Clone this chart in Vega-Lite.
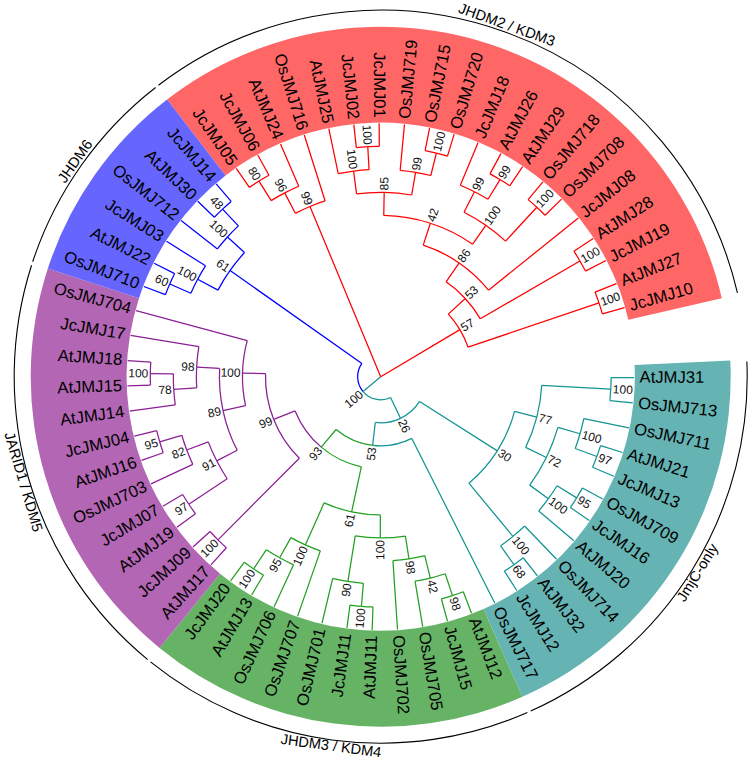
{
  "$schema": "https://vega.github.io/schema/vega-lite/v6.json",
  "width": 700,
  "height": 700,
  "autosize": {"type": "none"},
  "padding": {"left": 30.7, "top": 26.7, "right": 18.3, "bottom": 35.3},
  "background": "white",
  "config": {"view": {"stroke": null}, "text": {"font": "Liberation Sans"}},
  "datasets": {
    "clades": [
      {"clade": "KDM3", "label": "JHDM2 / KDM3", "y0": 40.5, "y1": 60.5, "ym": 50.5},
      {"clade": "JmjC", "label": "JmjC-only", "y0": -0.5, "y1": 11.5, "ym": 5.5},
      {"clade": "KDM4", "label": "JHDM3 / KDM4", "y0": 11.5, "y1": 22.5, "ym": 17},
      {"clade": "KDM5", "label": "JARID1 / KDM5", "y0": 22.5, "y1": 34.5, "ym": 28.5},
      {"clade": "JHDM6", "label": "JHDM6", "y0": 34.5, "y1": 40.5, "ym": 37.5}
    ],
    "tree": [
      {"n": "AtJMJ31", "y": 0, "x": 11, "py": 0.5, "px": 10, "g": "JmjC", "leaf": 1},
      {"n": "OsJMJ713", "y": 1, "x": 11, "py": 0.5, "px": 10, "g": "JmjC", "leaf": 1},
      {"n": "OsJMJ711", "y": 2, "x": 11, "py": 2.75, "px": 9, "g": "JmjC", "leaf": 1},
      {"n": "AtJMJ21", "y": 3, "x": 11, "py": 3.5, "px": 10, "g": "JmjC", "leaf": 1},
      {"n": "JcJMJ13", "y": 4, "x": 11, "py": 3.5, "px": 10, "g": "JmjC", "leaf": 1},
      {"n": "OsJMJ709", "y": 5, "x": 11, "py": 5.5, "px": 10, "g": "JmjC", "leaf": 1},
      {"n": "JcJMJ16", "y": 6, "x": 11, "py": 5.5, "px": 10, "g": "JmjC", "leaf": 1},
      {"n": "AtJMJ20", "y": 7, "x": 11, "py": 6.25, "px": 9, "g": "JmjC", "leaf": 1},
      {"n": "OsJMJ714", "y": 8, "x": 11, "py": 8.75, "px": 9, "g": "JmjC", "leaf": 1},
      {"n": "AtJMJ32", "y": 9, "x": 11, "py": 9.5, "px": 10, "g": "JmjC", "leaf": 1},
      {"n": "JcJMJ12", "y": 10, "x": 11, "py": 9.5, "px": 10, "g": "JmjC", "leaf": 1},
      {"n": "OsJMJ717", "y": 11, "x": 11, "py": 16.8359, "px": 3, "g": "JmjC", "leaf": 1},
      {"n": "AtJMJ12", "y": 12, "x": 11, "py": 12.5, "px": 10, "g": "KDM4", "leaf": 1},
      {"n": "JcJMJ15", "y": 13, "x": 11, "py": 12.5, "px": 10, "g": "KDM4", "leaf": 1},
      {"n": "OsJMJ705", "y": 14, "x": 11, "py": 13.25, "px": 9, "g": "KDM4", "leaf": 1},
      {"n": "OsJMJ702", "y": 15, "x": 11, "py": 14.125, "px": 8, "g": "KDM4", "leaf": 1},
      {"n": "AtJMJ11", "y": 16, "x": 11, "py": 16.5, "px": 10, "g": "KDM4", "leaf": 1},
      {"n": "JcJMJ11", "y": 17, "x": 11, "py": 16.5, "px": 10, "g": "KDM4", "leaf": 1},
      {"n": "OsJMJ701", "y": 18, "x": 11, "py": 17.25, "px": 9, "g": "KDM4", "leaf": 1},
      {"n": "OsJMJ707", "y": 19, "x": 11, "py": 19.875, "px": 8, "g": "KDM4", "leaf": 1},
      {"n": "OsJMJ706", "y": 20, "x": 11, "py": 20.75, "px": 9, "g": "KDM4", "leaf": 1},
      {"n": "AtJMJ13", "y": 21, "x": 11, "py": 21.5, "px": 10, "g": "KDM4", "leaf": 1},
      {"n": "JcJMJ20", "y": 22, "x": 11, "py": 21.5, "px": 10, "g": "KDM4", "leaf": 1},
      {"n": "AtJMJ17", "y": 23, "x": 11, "py": 23.5, "px": 10, "g": "KDM5", "leaf": 1},
      {"n": "JcJMJ09", "y": 24, "x": 11, "py": 23.5, "px": 10, "g": "KDM5", "leaf": 1},
      {"n": "AtJMJ19", "y": 25, "x": 11, "py": 25.5, "px": 10, "g": "KDM5", "leaf": 1},
      {"n": "JcJMJ07", "y": 26, "x": 11, "py": 25.5, "px": 10, "g": "KDM5", "leaf": 1},
      {"n": "OsJMJ703", "y": 27, "x": 11, "py": 27.75, "px": 9, "g": "KDM5", "leaf": 1},
      {"n": "AtJMJ16", "y": 28, "x": 11, "py": 28.5, "px": 10, "g": "KDM5", "leaf": 1},
      {"n": "JcJMJ04", "y": 29, "x": 11, "py": 28.5, "px": 10, "g": "KDM5", "leaf": 1},
      {"n": "AtJMJ14", "y": 30, "x": 11, "py": 30.75, "px": 9, "g": "KDM5", "leaf": 1},
      {"n": "AtJMJ15", "y": 31, "x": 11, "py": 31.5, "px": 10, "g": "KDM5", "leaf": 1},
      {"n": "AtJMJ18", "y": 32, "x": 11, "py": 31.5, "px": 10, "g": "KDM5", "leaf": 1},
      {"n": "JcJMJ17", "y": 33, "x": 11, "py": 31.875, "px": 8, "g": "KDM5", "leaf": 1},
      {"n": "OsJMJ704", "y": 34, "x": 11, "py": 31.625, "px": 6, "g": "KDM5", "leaf": 1},
      {"n": "OsJMJ710", "y": 35, "x": 11, "py": 35.5, "px": 10, "g": "JHDM6", "leaf": 1},
      {"n": "AtJMJ22", "y": 36, "x": 11, "py": 35.5, "px": 10, "g": "JHDM6", "leaf": 1},
      {"n": "JcJMJ03", "y": 37, "x": 11, "py": 36.25, "px": 9, "g": "JHDM6", "leaf": 1},
      {"n": "OsJMJ712", "y": 38, "x": 11, "py": 38.75, "px": 9, "g": "JHDM6", "leaf": 1},
      {"n": "AtJMJ30", "y": 39, "x": 11, "py": 39.5, "px": 10, "g": "JHDM6", "leaf": 1},
      {"n": "JcJMJ14", "y": 40, "x": 11, "py": 39.5, "px": 10, "g": "JHDM6", "leaf": 1},
      {"n": "JcJMJ05", "y": 41, "x": 11, "py": 41.5, "px": 10, "g": "KDM3", "leaf": 1},
      {"n": "JcJMJ06", "y": 42, "x": 11, "py": 41.5, "px": 10, "g": "KDM3", "leaf": 1},
      {"n": "AtJMJ24", "y": 43, "x": 11, "py": 42.25, "px": 9, "g": "KDM3", "leaf": 1},
      {"n": "OsJMJ716", "y": 44, "x": 11, "py": 43.125, "px": 8, "g": "KDM3", "leaf": 1},
      {"n": "AtJMJ25", "y": 45, "x": 11, "py": 45.75, "px": 9, "g": "KDM3", "leaf": 1},
      {"n": "JcJMJ02", "y": 46, "x": 11, "py": 46.5, "px": 10, "g": "KDM3", "leaf": 1},
      {"n": "JcJMJ01", "y": 47, "x": 11, "py": 46.5, "px": 10, "g": "KDM3", "leaf": 1},
      {"n": "OsJMJ719", "y": 48, "x": 11, "py": 48.75, "px": 9, "g": "KDM3", "leaf": 1},
      {"n": "OsJMJ715", "y": 49, "x": 11, "py": 49.5, "px": 10, "g": "KDM3", "leaf": 1},
      {"n": "OsJMJ720", "y": 50, "x": 11, "py": 49.5, "px": 10, "g": "KDM3", "leaf": 1},
      {"n": "JcJMJ18", "y": 51, "x": 11, "py": 51.75, "px": 9, "g": "KDM3", "leaf": 1},
      {"n": "AtJMJ26", "y": 52, "x": 11, "py": 52.5, "px": 10, "g": "KDM3", "leaf": 1},
      {"n": "AtJMJ29", "y": 53, "x": 11, "py": 52.5, "px": 10, "g": "KDM3", "leaf": 1},
      {"n": "OsJMJ718", "y": 54, "x": 11, "py": 54.5, "px": 10, "g": "KDM3", "leaf": 1},
      {"n": "OsJMJ708", "y": 55, "x": 11, "py": 54.5, "px": 10, "g": "KDM3", "leaf": 1},
      {"n": "JcJMJ08", "y": 56, "x": 11, "py": 53.09375, "px": 6, "g": "KDM3", "leaf": 1},
      {"n": "AtJMJ28", "y": 57, "x": 11, "py": 57.5, "px": 10, "g": "KDM3", "leaf": 1},
      {"n": "JcJMJ19", "y": 58, "x": 11, "py": 57.5, "px": 10, "g": "KDM3", "leaf": 1},
      {"n": "AtJMJ27", "y": 59, "x": 11, "py": 59.5, "px": 10, "g": "KDM3", "leaf": 1},
      {"n": "JcJMJ10", "y": 60, "x": 11, "py": 59.5, "px": 10, "g": "KDM3", "leaf": 1},

      {"n": "100", "y": 0.5, "x": 10, "py": 2.5, "px": 7, "g": "JmjC", "leaf": 0},
      {"n": "97", "y": 3.5, "x": 10, "py": 2.75, "px": 9, "g": "JmjC", "leaf": 0},
      {"n": "100", "y": 2.75, "x": 9, "py": 4.5, "px": 8, "g": "JmjC", "leaf": 0},
      {"n": "95", "y": 5.5, "x": 10, "py": 6.25, "px": 9, "g": "JmjC", "leaf": 0},
      {"n": "100", "y": 6.25, "x": 9, "py": 4.5, "px": 8, "g": "JmjC", "leaf": 0},
      {"n": "72", "y": 4.5, "x": 8, "py": 2.5, "px": 7, "g": "JmjC", "leaf": 0},
      {"n": "77", "y": 2.5, "x": 7, "py": 5.625, "px": 6, "g": "JmjC", "leaf": 0},
      {"n": "68", "y": 9.5, "x": 10, "py": 8.75, "px": 9, "g": "JmjC", "leaf": 0},
      {"n": "100", "y": 8.75, "x": 9, "py": 5.625, "px": 6, "g": "JmjC", "leaf": 0},
      {"n": "30", "y": 5.625, "x": 6, "py": 11.2305, "px": 2, "g": "JmjC", "leaf": 0},

      {"n": "100", "y": 16.5, "x": 10, "py": 17.25, "px": 9, "g": "KDM4", "leaf": 0},
      {"n": "90", "y": 17.25, "x": 9, "py": 15.6875, "px": 7, "g": "KDM4", "leaf": 0},
      {"n": "98", "y": 12.5, "x": 10, "py": 13.25, "px": 9, "g": "KDM4", "leaf": 0},
      {"n": "42", "y": 13.25, "x": 9, "py": 14.125, "px": 8, "g": "KDM4", "leaf": 0},
      {"n": "98", "y": 14.125, "x": 8, "py": 15.6875, "px": 7, "g": "KDM4", "leaf": 0},
      {"n": "100", "y": 15.6875, "x": 7, "py": 17.7813, "px": 6, "g": "KDM4", "leaf": 0},
      {"n": "100", "y": 21.5, "x": 10, "py": 20.75, "px": 9, "g": "KDM4", "leaf": 0},
      {"n": "95", "y": 20.75, "x": 9, "py": 19.875, "px": 8, "g": "KDM4", "leaf": 0},
      {"n": "100", "y": 19.875, "x": 8, "py": 17.7813, "px": 6, "g": "KDM4", "leaf": 0},
      {"n": "61", "y": 17.7813, "x": 6, "py": 22.6719, "px": 4, "g": "KDM4", "leaf": 0},

      {"n": "100", "y": 31.5, "x": 10, "py": 30.75, "px": 9, "g": "KDM5", "leaf": 0},
      {"n": "78", "y": 30.75, "x": 9, "py": 31.875, "px": 8, "g": "KDM5", "leaf": 0},
      {"n": "98", "y": 31.875, "x": 8, "py": 29.25, "px": 7, "g": "KDM5", "leaf": 0},
      {"n": "95", "y": 28.5, "x": 10, "py": 27.75, "px": 9, "g": "KDM5", "leaf": 0},
      {"n": "82", "y": 27.75, "x": 9, "py": 26.625, "px": 8, "g": "KDM5", "leaf": 0},
      {"n": "97", "y": 25.5, "x": 10, "py": 26.625, "px": 8, "g": "KDM5", "leaf": 0},
      {"n": "91", "y": 26.625, "x": 8, "py": 29.25, "px": 7, "g": "KDM5", "leaf": 0},
      {"n": "89", "y": 29.25, "x": 7, "py": 31.625, "px": 6, "g": "KDM5", "leaf": 0},
      {"n": "100", "y": 31.625, "x": 6, "py": 27.5625, "px": 5, "g": "KDM5", "leaf": 0},
      {"n": "100", "y": 23.5, "x": 10, "py": 27.5625, "px": 5, "g": "KDM5", "leaf": 0},
      {"n": "99", "y": 27.5625, "x": 5, "py": 22.6719, "px": 4, "g": "KDM5", "leaf": 0},

      {"n": "93", "y": 22.6719, "x": 4, "py": 16.8359, "px": 3, "g": "KDM4", "leaf": 0},
      {"n": "53", "y": 16.8359, "x": 3, "py": 11.2305, "px": 2, "g": "JmjC", "leaf": 0},
      {"n": "26", "y": 11.2305, "x": 2, "py": 24.3652, "px": 1, "g": "JmjC", "leaf": 0},

      {"n": "48", "y": 39.5, "x": 10, "py": 38.75, "px": 9, "g": "JHDM6", "leaf": 0},
      {"n": "100", "y": 38.75, "x": 9, "py": 37.5, "px": 8, "g": "JHDM6", "leaf": 0},
      {"n": "60", "y": 35.5, "x": 10, "py": 36.25, "px": 9, "g": "JHDM6", "leaf": 0},
      {"n": "100", "y": 36.25, "x": 9, "py": 37.5, "px": 8, "g": "JHDM6", "leaf": 0},
      {"n": "61", "y": 37.5, "x": 8, "py": 24.3652, "px": 1, "g": "JHDM6", "leaf": 0},

      {"n": "100", "y": 24.3652, "x": 1, "py": 24.3652, "px": 0, "g": "JmjC", "leaf": 0},

      {"n": "80", "y": 41.5, "x": 10, "py": 42.25, "px": 9, "g": "KDM3", "leaf": 0},
      {"n": "96", "y": 42.25, "x": 9, "py": 43.125, "px": 8, "g": "KDM3", "leaf": 0},
      {"n": "99", "y": 43.125, "x": 8, "py": 43.125, "px": 0, "g": "KDM3", "leaf": 0},
      {"n": "100", "y": 46.5, "x": 10, "py": 45.75, "px": 9, "g": "KDM3", "leaf": 0},
      {"n": "100", "y": 45.75, "x": 9, "py": 47.25, "px": 8, "g": "KDM3", "leaf": 0},
      {"n": "100", "y": 49.5, "x": 10, "py": 48.75, "px": 9, "g": "KDM3", "leaf": 0},
      {"n": "99", "y": 48.75, "x": 9, "py": 47.25, "px": 8, "g": "KDM3", "leaf": 0},
      {"n": "85", "y": 47.25, "x": 8, "py": 50.1875, "px": 7, "g": "KDM3", "leaf": 0},
      {"n": "99", "y": 52.5, "x": 10, "py": 51.75, "px": 9, "g": "KDM3", "leaf": 0},
      {"n": "99", "y": 51.75, "x": 9, "py": 53.125, "px": 8, "g": "KDM3", "leaf": 0},
      {"n": "100", "y": 54.5, "x": 10, "py": 53.125, "px": 8, "g": "KDM3", "leaf": 0},
      {"n": "100", "y": 53.125, "x": 8, "py": 50.1875, "px": 7, "g": "KDM3", "leaf": 0},
      {"n": "42", "y": 50.1875, "x": 7, "py": 53.0938, "px": 6, "g": "KDM3", "leaf": 0},
      {"n": "86", "y": 53.0938, "x": 6, "py": 55.2969, "px": 5, "g": "KDM3", "leaf": 0},
      {"n": "100", "y": 57.5, "x": 10, "py": 55.2969, "px": 5, "g": "KDM3", "leaf": 0},
      {"n": "53", "y": 55.2969, "x": 5, "py": 57.3984, "px": 4, "g": "KDM3", "leaf": 0},
      {"n": "100", "y": 59.5, "x": 10, "py": 57.3984, "px": 4, "g": "KDM3", "leaf": 0},
      {"n": "57", "y": 57.3984, "x": 4, "py": 57.3984, "px": 0, "g": "KDM3", "leaf": 0}
    ]
  },
  "resolve": {"scale": {"angle": "independent"}},
  "layer": [
    {
      "data": {"name": "clades"},
      "mark": {"type": "arc", "strokeWidth": 0},
      "encoding": {
        "theta": {"field": "y0", "type": "quantitative", "stack": null, "scale": {"type": "linear", "domain": [-15.7335, 47.0609], "range": [0, 6.283185307179586], "zero": false, "nice": false}},
        "theta2": {"field": "y1"},
        "radius": {"datum": 15.19, "type": "quantitative", "scale": {"type": "linear", "domain": [0, 16.5], "range": [0, 380.16], "zero": false, "nice": false}},
        "radius2": {"datum": 11.03},
        "fill": {"field": "clade", "type": "nominal", "legend": null, "scale": {"domain": ["KDM3", "JHDM6", "KDM5", "KDM4", "JmjC"], "range": ["#FF6666", "#6666FF", "#B366B3", "#66B366", "#66B3B3"]}}
      }
    },
    {
      "data": {"name": "clades"},
      "mark": {"type": "arc", "fill": "transparent", "stroke": "black", "strokeWidth": 1.1, "padAngle": 0.007},
      "encoding": {
        "theta": {"field": "y0", "type": "quantitative", "stack": null},
        "theta2": {"field": "y1"},
        "radius": {"datum": 15.907, "type": "quantitative"},
        "radius2": {"datum": 15.907}
      }
    },
    {
      "data": {"name": "tree"},
      "mark": {"type": "arc", "fill": "transparent", "strokeWidth": 1.25},
      "encoding": {
        "theta": {"field": "py", "type": "quantitative", "stack": null},
        "theta2": {"field": "y"},
        "radius": {"field": "px", "type": "quantitative"},
        "radius2": {"field": "px"},
        "stroke": {"field": "g", "type": "nominal", "legend": null, "scale": {"domain": ["KDM3", "JHDM6", "KDM5", "KDM4", "JmjC"], "range": ["#FF0000", "#0000FF", "#8C1E96", "#22A022", "#139494"]}}
      }
    },
    {
      "data": {"name": "tree"},
      "mark": {"type": "arc", "fill": "transparent", "strokeWidth": 1.25},
      "encoding": {
        "theta": {"field": "y", "type": "quantitative", "stack": null},
        "theta2": {"field": "y"},
        "radius": {"field": "x", "type": "quantitative"},
        "radius2": {"field": "px"},
        "stroke": {"field": "g", "type": "nominal", "legend": null}
      }
    },
    {
      "data": {"name": "tree"},
      "transform": [{"filter": "datum.leaf == 1 && (datum.y < 15.66 || datum.y > 47.06)"}],
      "mark": {"type": "text", "align": "left", "baseline": "middle", "fontSize": 16.6, "dx": 5.5, "color": "black"},
      "encoding": {
        "theta": {"field": "y", "type": "quantitative", "stack": null},
        "radius": {"datum": 11, "type": "quantitative"},
        "angle": {"field": "y", "type": "quantitative", "scale": {"type": "linear", "domain": [0, 60], "range": [0.2, 344.18], "zero": false, "nice": false}},
        "text": {"field": "n"}
      }
    },
    {
      "data": {"name": "tree"},
      "transform": [{"filter": "datum.leaf == 1 && datum.y >= 15.66 && datum.y <= 47.06"}],
      "mark": {"type": "text", "align": "right", "baseline": "middle", "fontSize": 16.6, "dx": -5.5, "color": "black"},
      "encoding": {
        "theta": {"field": "y", "type": "quantitative", "stack": null},
        "radius": {"datum": 11, "type": "quantitative"},
        "angle": {"field": "y", "type": "quantitative", "scale": {"type": "linear", "domain": [0, 60], "range": [-179.8, 164.18], "zero": false, "nice": false}},
        "text": {"field": "n"}
      }
    },
    {
      "data": {"name": "tree"},
      "transform": [{"filter": "datum.leaf == 0 && (datum.y < 15.66 || datum.y > 47.06)"}],
      "mark": {"type": "text", "align": "left", "baseline": "middle", "fontSize": 12, "dx": 2, "color": "#111111"},
      "encoding": {
        "theta": {"field": "y", "type": "quantitative", "stack": null},
        "radius": {"field": "x", "type": "quantitative"},
        "angle": {"field": "y", "type": "quantitative", "scale": {"type": "linear", "domain": [0, 60], "range": [0.2, 344.18], "zero": false, "nice": false}},
        "text": {"field": "n"}
      }
    },
    {
      "data": {"name": "tree"},
      "transform": [{"filter": "datum.leaf == 0 && datum.y >= 15.66 && datum.y <= 47.06"}],
      "mark": {"type": "text", "align": "right", "baseline": "middle", "fontSize": 12, "dx": -2, "color": "#111111"},
      "encoding": {
        "theta": {"field": "y", "type": "quantitative", "stack": null},
        "radius": {"field": "x", "type": "quantitative"},
        "angle": {"field": "y", "type": "quantitative", "scale": {"type": "linear", "domain": [0, 60], "range": [-179.8, 164.18], "zero": false, "nice": false}},
        "text": {"field": "n"}
      }
    },
    {
      "data": {"name": "clades"},
      "transform": [{"filter": "datum.ym > 30"}],
      "mark": {"type": "text", "align": "center", "baseline": "middle", "fontSize": 14.6, "color": "black"},
      "encoding": {
        "theta": {"field": "ym", "type": "quantitative", "stack": null},
        "radius": {"datum": 16.19, "type": "quantitative"},
        "angle": {"field": "ym", "type": "quantitative", "scale": {"type": "linear", "domain": [0, 60], "range": [90.2, 434.18], "zero": false, "nice": false}},
        "text": {"field": "label"}
      }
    },
    {
      "data": {"name": "clades"},
      "transform": [{"filter": "datum.ym < 30"}],
      "mark": {"type": "text", "align": "center", "baseline": "middle", "fontSize": 14.6, "color": "black"},
      "encoding": {
        "theta": {"field": "ym", "type": "quantitative", "stack": null},
        "radius": {"datum": 16.2, "type": "quantitative"},
        "angle": {"field": "ym", "type": "quantitative", "scale": {"type": "linear", "domain": [0, 60], "range": [-89.8, 254.18], "zero": false, "nice": false}},
        "text": {"field": "label"}
      }
    }
  ]
}
